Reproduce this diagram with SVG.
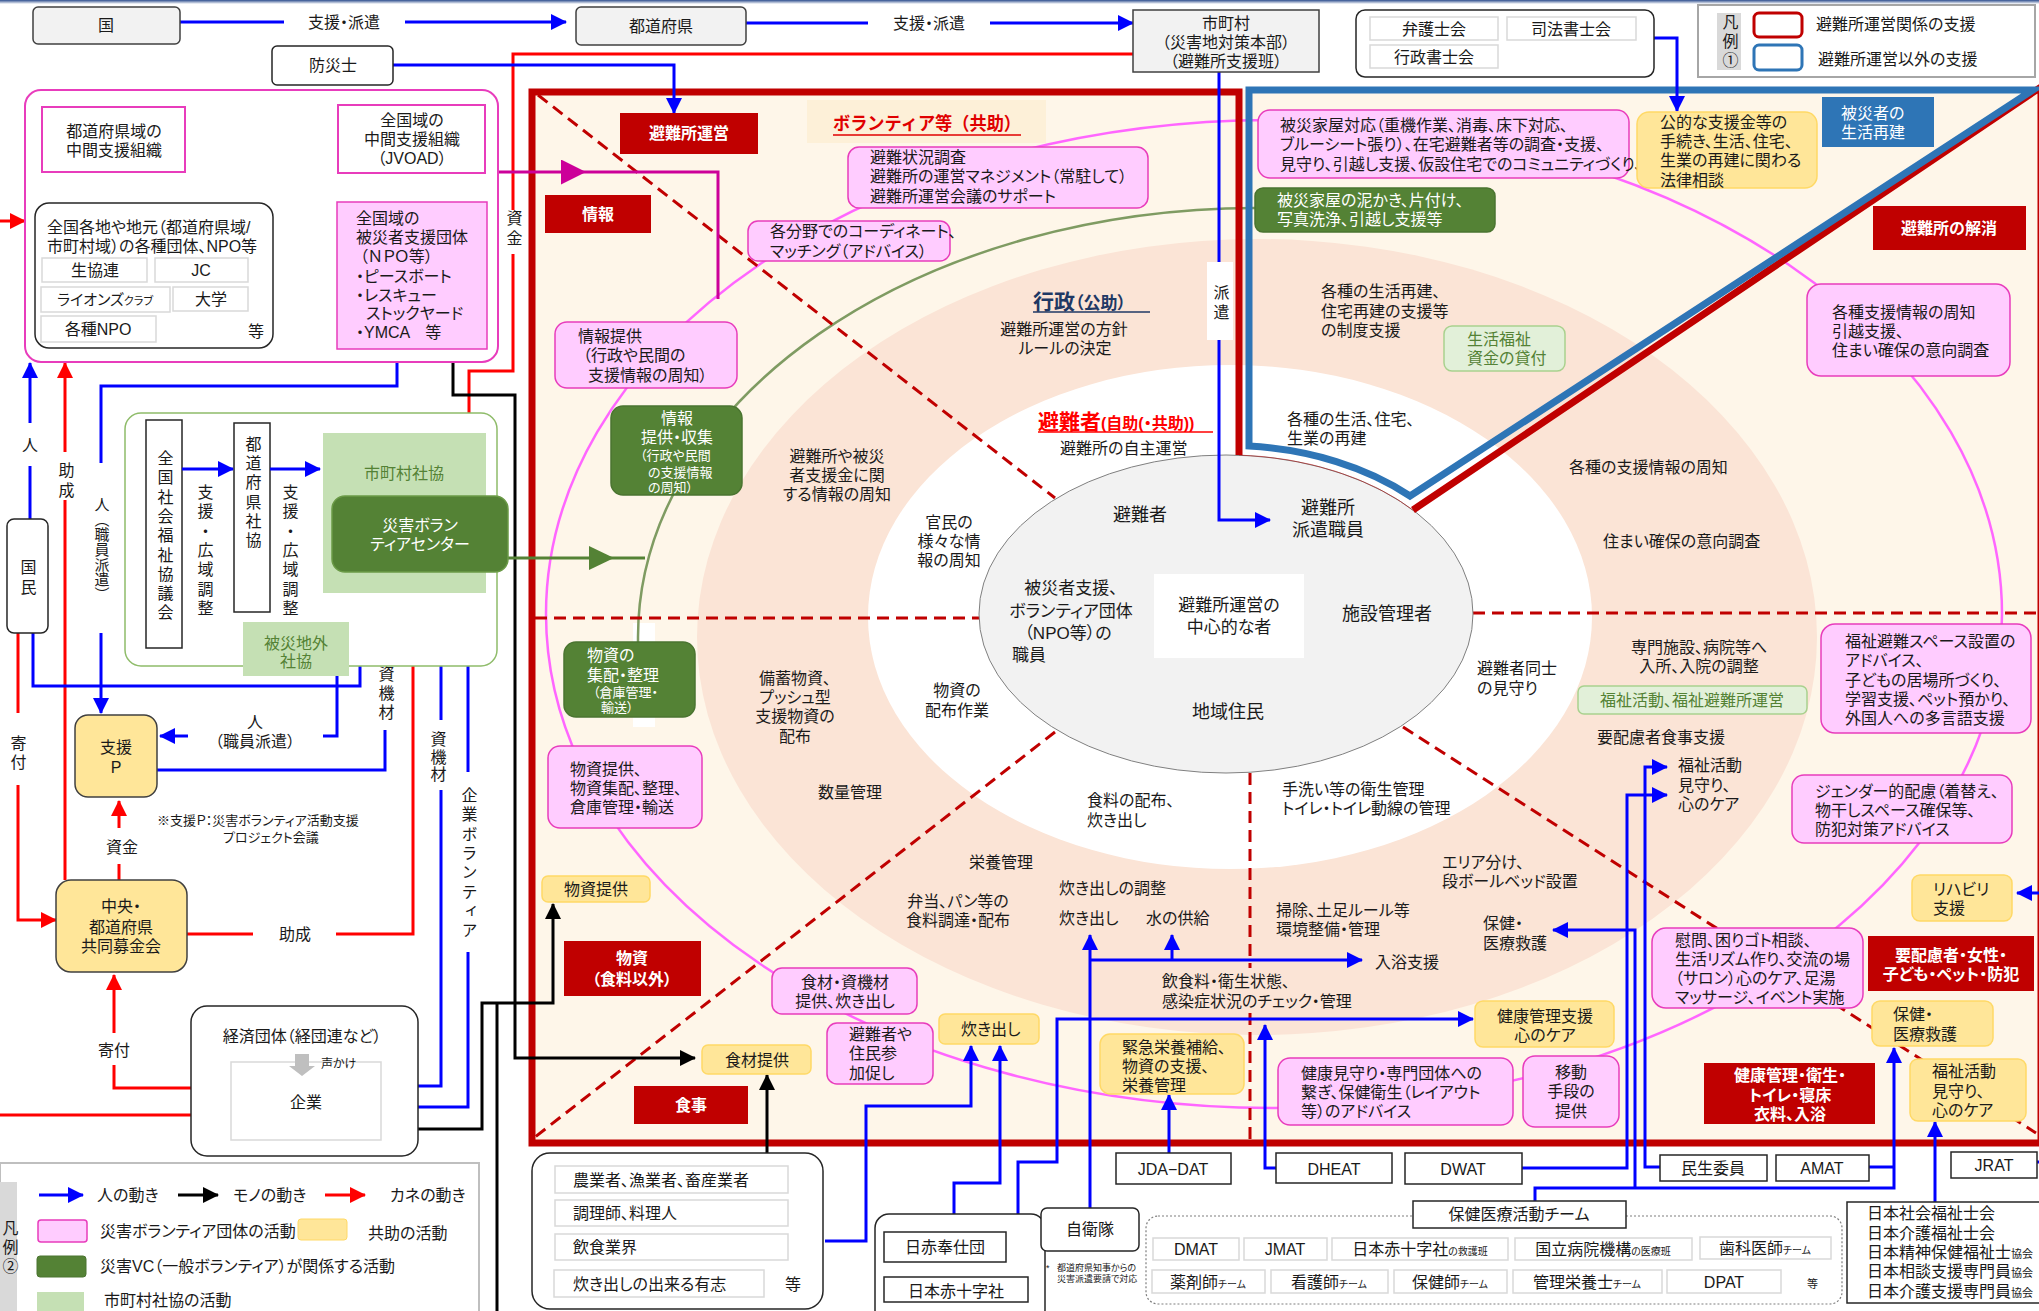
<svg xmlns="http://www.w3.org/2000/svg" width="2039" height="1311" viewBox="0 0 2039 1311">
<defs>
<style>
text{font-family:"Liberation Sans","Noto Sans CJK JP",sans-serif;font-size:15px;fill:#1a1a1a;font-feature-settings:"palt" 1}
.c{text-anchor:middle}
.w{fill:#fff}
.b{font-weight:bold}
.f16{font-size:16px}
.f17{font-size:17px}
.f18{font-size:18px}
.f13{font-size:13px}
.f12{font-size:12px}
.f11{font-size:11px}
.f10{font-size:10px}
.f9{font-size:9px}
.v{writing-mode:vertical-rl;font-feature-settings:normal}
.gt{fill:#548235}
.gray{fill:#f2f2f2;stroke:#404040;stroke-width:1.5}
.wb{fill:#fff;stroke:#262626;stroke-width:1.5}
.lb{fill:#fff;stroke:#d9d9d9;stroke-width:1.5}
.pk{fill:#ffccff;stroke:#e83cbc;stroke-width:1.5}
.yl{fill:#ffe699;stroke:#ffd966;stroke-width:1.5}
.dg{fill:#548235;stroke:#4a7430;stroke-width:1.5}
.lg{fill:#c5e0b4}
.lg2{fill:#e2f0d9;stroke:#a9d18e;stroke-width:1.5}
.rl{fill:#c00000}
.bl{fill:none;stroke:#0000ff;stroke-width:3}
.bk{fill:none;stroke:#000;stroke-width:3}
.rd{fill:none;stroke:#ff0000;stroke-width:3}
.mg{fill:none;stroke:#cc0099;stroke-width:3}
.gn{fill:none;stroke:#548235;stroke-width:3}
.dash{fill:none;stroke:#c00000;stroke-width:3;stroke-dasharray:12 7}
</style>
<linearGradient id="topg" x1="0" y1="0" x2="0" y2="1"><stop offset="0" stop-color="#2f4f8f"/><stop offset="1" stop-color="#ffffff"/></linearGradient>
<marker id="mb" viewBox="0 0 16 16" markerUnits="userSpaceOnUse" markerWidth="16" markerHeight="16" refX="15" refY="8" orient="auto"><path d="M0 0L16 8L0 16z" fill="#0000ff"/></marker>
<marker id="mk" viewBox="0 0 16 16" markerUnits="userSpaceOnUse" markerWidth="16" markerHeight="16" refX="15" refY="8" orient="auto"><path d="M0 0L16 8L0 16z" fill="#000"/></marker>
<marker id="mr" viewBox="0 0 16 16" markerUnits="userSpaceOnUse" markerWidth="16" markerHeight="16" refX="15" refY="8" orient="auto"><path d="M0 0L16 8L0 16z" fill="#ff0000"/></marker>
<marker id="mm" viewBox="0 0 16 16" markerUnits="userSpaceOnUse" markerWidth="16" markerHeight="16" refX="15" refY="8" orient="auto-start-reverse"><path d="M0 0L16 8L0 16z" fill="#cc0099"/></marker>
<marker id="mm2" viewBox="0 0 25 25" markerUnits="userSpaceOnUse" markerWidth="25" markerHeight="25" refX="24" refY="12.5" orient="auto"><path d="M0 0L25 12.5L0 25z" fill="#cc0099"/></marker>
<marker id="mg" viewBox="0 0 25 24" markerUnits="userSpaceOnUse" markerWidth="25" markerHeight="24" refX="24" refY="12" orient="auto"><path d="M0 0L25 12L0 24z" fill="#548235"/></marker>
</defs>

<rect width="2039" height="1311" fill="#fff"/>
<rect x="0" y="0" width="2039" height="4" fill="url(#topg)"/>

<g id="regions">
<rect x="532" y="90" width="1507" height="1053" fill="#fef6e9"/>
<rect x="807" y="100" width="239" height="43" fill="#fdf0d8"/>
<ellipse cx="1257" cy="637" rx="560" ry="398" fill="#fbe4d6"/>
<ellipse cx="1230" cy="617" rx="362" ry="252" fill="#fff"/>
<rect x="633" y="623" width="22" height="104" fill="#fff"/>
<ellipse cx="1274" cy="614" rx="728" ry="494" fill="none" stroke="#ff66ff" stroke-width="2.5"/>
<path d="M1255 208A619 429 0 0 0 638 637L638 643" fill="none" stroke="#7f9b62" stroke-width="2.5"/>
<path class="dash" d="M538 95L1055 498M535 618H980M1055 732L535 1137M1473 613H2036M1403 727L2036 1133M1250 773V968M1250 1013V1140"/>
<ellipse cx="1226" cy="614" rx="247" ry="159" fill="#f2f2f2" stroke="#808080" stroke-width="1"/>
<path d="M1239 455A247 159 0 0 1 1413 510" fill="none" stroke="#c00000" stroke-width="1" opacity="0.5"/>
<path d="M1239 455V92H532V1143H2041V87L1413 510" fill="none" stroke="#c00000" stroke-width="7"/>
<path d="M1249 90H2033L1410 496A257 169 0 0 0 1249 446Z" fill="none" stroke="#2e75b6" stroke-width="7"/>
</g>

<g id="connectors">
<path class="bl" d="M180 22H284"/>
<path class="bl" d="M405 22H566" marker-end="url(#mb)"/>
<path class="bl" d="M746 23H868"/>
<path class="bl" d="M990 23H1133" marker-end="url(#mb)"/>
<text class="c f16" x="344" y="28">支援・派遣</text>
<text class="c f16" x="929" y="29">支援・派遣</text>
<path class="rd" d="M1133 54H513V210"/>
<path class="rd" d="M513 254V371H469V493" marker-end="url(#mr)"/>
<text class="v f16" x="513" y="210" style="letter-spacing:4px">資金</text>
<path class="bl" d="M393 65H674V113" marker-end="url(#mb)"/>
<path class="bl" d="M1219 72V520H1270" marker-end="url(#mb)"/>
<rect x="1207" y="262" width="26" height="78" fill="#fff"/>
<text class="v f16" x="1220" y="284" style="letter-spacing:4px">派遣</text>
<path class="bl" d="M1654 38H1677V111" marker-end="url(#mb)"/>
<path class="mg" d="M185 130H338M256 130V142M256 166V183H306V274"/>
<text class="c f16" x="256" y="161">調整・支援</text>
<path class="mg" d="M277 274H334" marker-start="url(#mm)" marker-end="url(#mm)"/>
<path class="mg" d="M498 172H585" marker-end="url(#mm2)"/>
<path class="mg" d="M585 172H718V299"/>
<path class="rd" d="M0 221H25" marker-end="url(#mr)"/>
<path class="bl" d="M30 519V466"/>
<path class="bl" d="M30 423V363" marker-end="url(#mb)"/>
<text class="c f16" x="30" y="451">人</text>
<path class="rd" d="M65 880V500"/>
<path class="rd" d="M65 452V363" marker-end="url(#mr)"/>
<text class="v f16" x="65" y="462" style="letter-spacing:4px">助成</text>
<path class="bl" d="M397 349V386H101V463"/>
<path class="bl" d="M101 633V713" marker-end="url(#mb)"/>
<text class="v" x="101" y="497">人（職員派遣）</text>
<path class="rd" d="M18 633V713"/>
<path class="rd" d="M18 785V920H56" marker-end="url(#mr)"/>
<text class="v f16" x="17" y="735" style="letter-spacing:3px">寄付</text>
<path class="bl" d="M33 633V686H360V573" marker-end="url(#mb)"/>
<path class="bl" d="M337 622V573" marker-end="url(#mb)"/>
<path class="bl" d="M337 676V736H323"/>
<path class="bl" d="M188 736H160" marker-end="url(#mb)"/>
<text class="c f16" x="255" y="728">人</text>
<text class="c f16" x="255" y="747">（職員派遣）</text>
<path class="bl" d="M157 770H385V730"/>
<path class="bl" d="M385 625V573" marker-end="url(#mb)"/>
<text class="v f16" x="385" y="628" style="letter-spacing:3px">人・資機材</text>
<path class="bl" d="M381 1086H441V790"/>
<path class="bl" d="M441 720V573" marker-end="url(#mb)"/>
<text class="v f16" x="437" y="731" style="letter-spacing:1.5px">資機材</text>
<path class="bl" d="M381 1107H468V952"/>
<path class="bl" d="M468 772V573" marker-end="url(#mb)"/>
<text class="v f16" x="468" y="787" style="letter-spacing:3.3px">企業ボランティア</text>
<path class="rd" d="M187 934H253"/>
<path class="rd" d="M336 934H413V575" marker-end="url(#mr)"/>
<text class="c f16" x="295" y="940">助成</text>
<path class="rd" d="M119 880V864"/>
<path class="rd" d="M119 828V801" marker-end="url(#mr)"/>
<text class="c f16" x="122" y="853">資金</text>
<path class="rd" d="M233 1088H114V1065"/>
<path class="rd" d="M114 1033V975" marker-end="url(#mr)"/>
<text class="c f16" x="114" y="1056">寄付</text>
<path class="rd" d="M0 1115H230"/>
<path class="bk" d="M453 349V395H515V1058H695" marker-end="url(#mk)"/>
<path class="bk" d="M381 1129H482V1003H553V904" marker-end="url(#mk)"/>
<path class="bk" d="M497 1003V1311"/>
<path class="bk" d="M767 1153V1075" marker-end="url(#mk)"/>
<path class="gn" d="M508 558H613" marker-end="url(#mg)"/>
<path class="gn" d="M613 558H645"/>
<path class="bl" d="M825 1241H866V1106H971V1046" marker-end="url(#mb)"/>
<path class="bl" d="M954 1277V1183H1000V1046" marker-end="url(#mb)"/>
<path class="bl" d="M1090 1208V935" marker-end="url(#mb)"/>
<path class="bl" d="M1090 960H1362" marker-end="url(#mb)"/>
<path class="bl" d="M1172 960V935" marker-end="url(#mb)"/>
<path class="bl" d="M1018 1277V1162H1057V1019H1473" marker-end="url(#mb)"/>
<path class="bl" d="M1169 1153V1095" marker-end="url(#mb)"/>
<path class="bl" d="M1276 1168H1265V1025" marker-end="url(#mb)"/>
<path class="bl" d="M1522 1168H1627V795H1667" marker-end="url(#mb)"/>
<path class="bl" d="M1660 1167H1645V767H1667" marker-end="url(#mb)"/>
<path class="bl" d="M1535 1201V1188H1894V1048" marker-end="url(#mb)"/>
<path class="bl" d="M1635 1188V930H1553" marker-end="url(#mb)"/>
<path class="bl" d="M1869 1167H1894"/>
<path class="bl" d="M1935 1202V1122" marker-end="url(#mb)"/>
<path class="bl" d="M2037 1162H2042V893H2017" marker-end="url(#mb)"/>
</g>

<g id="n-kuni"><rect class="gray" x="33" y="7" width="147" height="37" rx="5"/><text class="c f16" x="106" y="31">国</text></g>
<g id="n-todofuken"><rect class="gray" x="576" y="7" width="170" height="38" rx="5"/><text class="c f16" x="661" y="32">都道府県</text></g>
<g id="n-shichoson"><rect class="gray" x="1133" y="10" width="186" height="62"/><text class="c f16"><tspan x="1226" y="29">市町村</tspan><tspan x="1226" y="48">（災害地対策本部）</tspan><tspan x="1226" y="67">（避難所支援班）</tspan></text></g>
<g id="n-bousaishi"><rect class="wb" x="272" y="46" width="121" height="39" rx="5"/><text class="c f16" x="333" y="71">防災士</text></g>
<g id="n-shigyo"><rect class="wb" x="1356" y="10" width="298" height="67" rx="9"/>
<rect class="lb" x="1370" y="17" width="128" height="23"/><rect class="lb" x="1507" y="17" width="129" height="23"/><rect class="lb" x="1370" y="45" width="128" height="23"/>
<text class="c f16" x="1434" y="35">弁護士会</text><text class="c f16" x="1571" y="35">司法書士会</text><text class="c f16" x="1434" y="63">行政書士会</text></g>
<g id="legend1">
<rect x="1698" y="5" width="337" height="72" fill="#fff" stroke="#a6a6a6" stroke-width="2"/>
<rect x="1717" y="13" width="24" height="57" fill="#d9d9d9"/>
<text class="v f16" x="1729" y="14" style="letter-spacing:3px">凡例①</text>
<rect x="1754" y="13" width="48" height="24" rx="5" fill="#fff" stroke="#c00000" stroke-width="3"/>
<rect x="1754" y="45" width="48" height="25" rx="5" fill="#fff" stroke="#2e75b6" stroke-width="3"/>
<text class="f16" x="1816" y="30">避難所運営関係の支援</text>
<text class="f16" x="1818" y="65">避難所運営以外の支援</text>
</g>

<g id="n-npo-area"><rect x="25" y="90" width="473" height="272" rx="16" fill="#fff" stroke="#e83cbc" stroke-width="2"/></g>
<g id="n-pref-chukan"><rect x="42" y="107" width="143" height="65" fill="#fff" stroke="#e83cbc" stroke-width="2"/><text class="c f16"><tspan x="114" y="137">都道府県域の</tspan><tspan x="114" y="156">中間支援組織</tspan></text></g>
<g id="n-jvoad"><rect x="338" y="105" width="147" height="68" fill="#fff" stroke="#e83cbc" stroke-width="2"/><text class="c f16"><tspan x="412" y="126">全国域の</tspan><tspan x="412" y="145">中間支援組織</tspan><tspan x="412" y="164">（JVOAD）</tspan></text></g>
<g id="n-kakushu"><rect class="wb" x="35" y="203" width="238" height="145" rx="14"/>
<text class="f16"><tspan x="47" y="233">全国各地や地元（都道府県域/</tspan><tspan x="47" y="252">市町村域）の各種団体、NPO等</tspan></text>
<rect class="lb" x="42" y="258" width="105" height="24"/><text class="c f16" x="95" y="276">生協連</text>
<rect class="lb" x="155" y="258" width="93" height="24"/><text class="c f16" x="201" y="276">JC</text>
<rect class="lb" x="41" y="287" width="129" height="25"/><text class="c" x="105" y="305">ライオンズ<tspan class="f11">クラブ</tspan></text>
<rect class="lb" x="173" y="287" width="75" height="24"/><text class="c f16" x="211" y="305">大学</text>
<rect class="lb" x="41" y="316" width="115" height="26"/><text class="c f16" x="98" y="335">各種NPO</text>
<text class="c f16" x="256" y="337">等</text></g>
<g id="n-npo-zenkoku"><rect class="pk" x="337" y="202" width="150" height="147"/>
<text class="f16"><tspan x="356" y="224">全国域の</tspan><tspan x="356" y="243">被災者支援団体</tspan><tspan x="360" y="262">（ＮＰＯ等）</tspan><tspan x="356" y="282">・ピースボート</tspan><tspan x="356" y="301">・レスキュー</tspan><tspan x="366" y="319">ストックヤード</tspan><tspan x="356" y="338">・YMCA　等</tspan></text></g>

<g id="n-shakyo-area"><rect x="125" y="413" width="372" height="253" rx="16" fill="#fff" stroke="#8fbc6a" stroke-width="1.5"/></g>
<g id="n-zenshakyo"><rect class="wb" x="146" y="420" width="36" height="228"/><text class="v f16" x="164" y="450" style="letter-spacing:3.3px">全国社会福祉協議会</text></g>
<text class="v f16" x="204" y="484" style="letter-spacing:3.3px">支援・広域調整</text>
<g id="n-kenshakyo"><rect class="wb" x="234" y="423" width="36" height="189"/><text class="v f16" x="252" y="436" style="letter-spacing:3.2px">都道府県社協</text></g>
<text class="v f16" x="289" y="484" style="letter-spacing:3.3px">支援・広域調整</text>
<path class="bl" d="M182 469H233" marker-end="url(#mb)"/>
<path class="bl" d="M270 469H320" marker-end="url(#mb)"/>
<g id="n-shichoson-shakyo"><rect class="lg" x="323" y="433" width="163" height="160"/><text class="c f16 gt" x="404" y="479">市町村社協</text></g>
<g id="n-vc"><rect x="332" y="496" width="176" height="76" rx="13" fill="#548235" stroke="#6b9a47" stroke-width="1.5"/><text class="c f16 w"><tspan x="420" y="531">災害ボラン</tspan><tspan x="420" y="550">ティアセンター</tspan></text></g>
<g id="n-higaichigai"><rect class="lg" x="243" y="622" width="106" height="54"/><text class="c f16 gt"><tspan x="296" y="649">被災地外</tspan><tspan x="296" y="667">社協</tspan></text></g>
<g id="n-kokumin"><rect class="wb" x="7" y="519" width="41" height="114" rx="7"/><text class="v f16" x="27" y="559" style="letter-spacing:4px">国民</text></g>
<g id="n-shienp"><rect x="75" y="715" width="82" height="82" rx="13" fill="#ffe699" stroke="#404040" stroke-width="1.5"/><text class="c f16"><tspan x="116" y="753">支援</tspan><tspan x="116" y="773">P</tspan></text></g>
<text class="f13" x="157" y="825">※支援Ｐ：災害ボランティア活動支援</text>
<text class="f13" x="223" y="842">プロジェクト会議</text>
<g id="n-kyobo"><rect x="56" y="880" width="131" height="92" rx="15" fill="#ffe699" stroke="#404040" stroke-width="1.5"/><text class="c f16"><tspan x="121" y="912">中央・</tspan><tspan x="121" y="933">都道府県</tspan><tspan x="121" y="952">共同募金会</tspan></text></g>
<g id="n-keizai"><rect class="wb" x="191" y="1006" width="227" height="150" rx="16"/><text class="c f16" x="302" y="1042">経済団体（経団連など）</text>
<rect class="lb" x="231" y="1062" width="150" height="78"/>
<path d="M295 1054H309V1066H315L302 1076L289 1066H295Z" fill="#bfbfbf"/>
<text class="f12" x="321" y="1068">声かけ</text>
<text class="c f16" x="306" y="1108">企業</text></g>

<g id="legend2">
<rect x="0" y="1163" width="479" height="160" fill="#fff" stroke="#bfbfbf" stroke-width="2"/>
<rect x="0" y="1182" width="17" height="140" fill="#d9d9d9"/>
<text class="v f16" x="9" y="1220" style="letter-spacing:3px">凡例②</text>
<path class="bl" d="M39 1195H83" marker-end="url(#mb)"/><text class="f16" x="97" y="1201">人の動き</text>
<path class="bk" d="M178 1195H218" marker-end="url(#mk)"/><text class="f16" x="233" y="1201">モノの動き</text>
<path class="rd" d="M325 1195H365" marker-end="url(#mr)"/><text class="f16" x="390" y="1201">カネの動き</text>
<rect x="38" y="1220" width="49" height="22" rx="3" fill="#ffccff" stroke="#e83cbc" stroke-width="1.5"/><text class="f16" x="100" y="1237">災害ボランティア団体の活動</text>
<rect x="298" y="1219" width="49" height="21" rx="3" fill="#ffe699" stroke="#ffd966"/><text class="f16" x="368" y="1239">共助の活動</text>
<rect x="37" y="1256" width="49" height="21" rx="3" fill="#548235" stroke="#4a7430"/><text class="f16" x="100" y="1272">災害VC（一般ボランティア）が関係する活動</text>
<rect x="37" y="1292" width="47" height="20" fill="#c5e0b4"/><text class="f16" x="104" y="1306">市町村社協の活動</text>
</g>

<g id="n-lbl-unei"><rect class="rl" x="620" y="113" width="138" height="41"/><text class="c f16 b w" x="689" y="139">避難所運営</text></g>
<g id="n-lbl-joho"><rect class="rl" x="545" y="195" width="106" height="38"/><text class="c f16 b w" x="598" y="220">情報</text></g>
<g id="n-volunteer-title"><text class="c b" style="font-size:18px;fill:#e00000;font-feature-settings:normal" x="927" y="130" textLength="188" lengthAdjust="spacingAndGlyphs">ボランティア等（共助）</text><line x1="833" y1="135" x2="1021" y2="135" stroke="#e00000" stroke-width="1.5"/></g>
<g id="n-hinan-chosa"><rect class="pk" x="848" y="147" width="300" height="61" rx="11"/><text class="f16"><tspan x="870" y="163">避難状況調査</tspan><tspan x="870" y="182">避難所の運営マネジメント（常駐して）</tspan><tspan x="870" y="202">避難所運営会議のサポート</tspan></text></g>
<g id="n-coordinate"><rect class="pk" x="748" y="221" width="202" height="40" rx="10"/><text class="f16"><tspan x="770" y="237">各分野でのコーディネート、</tspan><tspan x="770" y="257">マッチング（アドバイス）</tspan></text></g>
<g id="n-joho-teikyo"><rect class="pk" x="555" y="322" width="182" height="66" rx="12"/><text class="f16"><tspan x="578" y="342">情報提供</tspan><tspan x="583" y="361">（行政や民間の</tspan><tspan x="588" y="381">支援情報の周知）</tspan></text></g>
<g id="n-joho-shushu"><rect class="dg" x="611" y="406" width="131" height="89" rx="12"/><text class="c f16 w"><tspan x="677" y="424">情報</tspan><tspan x="677" y="443">提供・収集</tspan></text><text class="f13 w"><tspan x="640" y="460">（行政や民間</tspan><tspan x="648" y="477">の支援情報</tspan><tspan x="648" y="492">の周知）</tspan></text></g>
<g id="n-busshi-shuhai"><rect class="dg" x="564" y="642" width="131" height="75" rx="12"/><text class="f16 w"><tspan x="587" y="661">物資の</tspan><tspan x="587" y="681">集配・整理</tspan></text><text class="f13 w"><tspan x="593" y="697">（倉庫管理・</tspan><tspan x="601" y="712">輸送）</tspan></text></g>
<g id="n-busshi-teikyo-pk"><rect class="pk" x="548" y="746" width="154" height="82" rx="12"/><text class="f16"><tspan x="570" y="775">物資提供、</tspan><tspan x="570" y="794">物資集配、整理、</tspan><tspan x="570" y="813">倉庫管理・輸送</tspan></text></g>

<g id="texts-left">
<text class="c f16"><tspan x="837" y="462">避難所や被災</tspan><tspan x="837" y="481">者支援金に関</tspan><tspan x="837" y="500">する情報の周知</tspan></text>
<text class="c f16"><tspan x="949" y="528">官民の</tspan><tspan x="949" y="547">様々な情</tspan><tspan x="949" y="566">報の周知</tspan></text>
<text class="c f16"><tspan x="795" y="684">備蓄物資、</tspan><tspan x="795" y="703">プッシュ型</tspan><tspan x="795" y="722">支援物資の</tspan><tspan x="795" y="742">配布</tspan></text>
<text class="c f16"><tspan x="957" y="696">物資の</tspan><tspan x="957" y="716">配布作業</tspan></text>
<text class="c f16" x="850" y="798">数量管理</text>
<text class="f16" x="969" y="868">栄養管理</text>
<text class="c f16"><tspan x="958" y="907">弁当、パン等の</tspan><tspan x="958" y="926">食料調達・配布</tspan></text>
</g>

<g id="n-busshi-teikyo"><rect class="yl" x="542" y="876" width="108" height="26" rx="6"/><text class="c f16" x="596" y="895">物資提供</text></g>
<g id="n-lbl-busshi"><rect class="rl" x="564" y="941" width="137" height="55"/><text class="c f16 b w"><tspan x="632" y="964">物資</tspan><tspan x="632" y="985">（食料以外）</tspan></text></g>
<g id="n-shokuzai-pk"><rect class="pk" x="772" y="968" width="145" height="46" rx="10"/><text class="c f16"><tspan x="845" y="988">食材・資機材</tspan><tspan x="845" y="1007">提供、炊き出し</tspan></text></g>
<g id="n-sanka"><rect class="pk" x="827" y="1023" width="106" height="61" rx="10"/><text class="f16"><tspan x="849" y="1040">避難者や</tspan><tspan x="849" y="1059">住民参</tspan><tspan x="849" y="1079">加促し</tspan></text></g>
<g id="n-takidashi"><rect class="yl" x="939" y="1014" width="100" height="30" rx="6"/><text class="f16" x="961" y="1035">炊き出し</text></g>
<g id="n-shokuzai"><rect class="yl" x="702" y="1045" width="109" height="29" rx="6"/><text class="c f16" x="757" y="1066">食材提供</text></g>
<g id="n-lbl-shokuji"><rect class="rl" x="634" y="1086" width="114" height="38"/><text class="c f16 b w" x="691" y="1111">食事</text></g>
<g id="n-nogyo"><rect class="wb" x="532" y="1153" width="291" height="156" rx="18"/>
<rect class="lb" x="555" y="1166" width="233" height="27"/><text class="f16" x="573" y="1186">農業者、漁業者、畜産業者</text>
<rect class="lb" x="555" y="1200" width="233" height="26"/><text class="f16" x="573" y="1219">調理師、料理人</text>
<rect class="lb" x="555" y="1234" width="233" height="26"/><text class="f16" x="573" y="1253">飲食業界</text>
<rect class="lb" x="554" y="1270" width="210" height="27"/><text class="f16" x="573" y="1290">炊き出しの出来る有志</text>
<text class="f16" x="785" y="1290">等</text></g>
<g id="n-nisseki"><rect class="wb" x="875" y="1214" width="170" height="110" rx="14"/>
<rect class="wb" x="884" y="1232" width="122" height="30"/><text class="c f16" x="945" y="1253">日赤奉仕団</text>
<rect class="wb" x="884" y="1277" width="144" height="25"/><text class="c f16" x="956" y="1297">日本赤十字社</text></g>

<g id="texts-center">
<text class="b" style="font-size:21px;fill:#1f3864" x="1033" y="309">行政<tspan style="font-size:17px">（公助）</tspan></text>
<line x1="1033" y1="312" x2="1150" y2="312" stroke="#1f3864" stroke-width="1.5"/>
<text class="c f16"><tspan x="1064" y="335">避難所運営の方針</tspan><tspan x="1065" y="354">ルールの決定</tspan></text>
<text class="b" style="font-size:21px;fill:#ff0000" x="1038" y="429">避難者<tspan style="font-size:16px">(自助(・共助))</tspan></text>
<line x1="1038" y1="432" x2="1213" y2="432" stroke="#ff0000" stroke-width="1.5"/>
<text class="f16" x="1060" y="454">避難所の自主運営</text>
<text class="f16"><tspan x="1321" y="297">各種の生活再建、</tspan><tspan x="1321" y="317">住宅再建の支援等</tspan><tspan x="1321" y="336">の制度支援</tspan></text>
<text class="f16"><tspan x="1287" y="425">各種の生活、住宅、</tspan><tspan x="1287" y="444">生業の再建</tspan></text>
<text class="c f18" x="1140" y="521">避難者</text>
<text class="c f18"><tspan x="1328" y="514">避難所</tspan><tspan x="1328" y="536">派遣職員</tspan></text>
<text class="c f17"><tspan x="1071" y="594">被災者支援、</tspan><tspan x="1071" y="617">ボランティア団体</tspan><tspan x="1068" y="639">（NPO等）の</tspan><tspan x="1012" y="661" style="text-anchor:start">職員</tspan></text>
<rect x="1154" y="574" width="150" height="84" fill="#fff"/>
<text class="c f17"><tspan x="1229" y="611">避難所運営の</tspan><tspan x="1229" y="633">中心的な者</tspan></text>
<text class="c f18" x="1387" y="620">施設管理者</text>
<text class="c f18" x="1228" y="718">地域住民</text>
<text class="f16"><tspan x="1477" y="674">避難者同士</tspan><tspan x="1477" y="694">の見守り</tspan></text>
<text class="f16"><tspan x="1087" y="806">食料の配布、</tspan><tspan x="1087" y="826">炊き出し</tspan></text>
<text class="f16"><tspan x="1282" y="795">手洗い等の衛生管理</tspan><tspan x="1282" y="814">トイレ・トイレ動線の管理</tspan></text>
<text class="f16"><tspan x="1442" y="868">エリア分け、</tspan><tspan x="1442" y="887">段ボールベッド設置</tspan></text>
<text class="f16" x="1059" y="894">炊き出しの調整</text>
<text class="f16" x="1059" y="924">炊き出し</text>
<text class="f16" x="1146" y="924">水の供給</text>
<text class="f16"><tspan x="1276" y="916">掃除、土足ルール等</tspan><tspan x="1276" y="935">環境整備・管理</tspan></text>
<text class="f16" x="1375" y="968">入浴支援</text>
<text class="f16"><tspan x="1162" y="987">飲食料・衛生状態、</tspan><tspan x="1162" y="1007">感染症状況のチェック・管理</tspan></text>
<text class="f16"><tspan x="1483" y="929">保健・</tspan><tspan x="1483" y="949">医療救護</tspan></text>
<text class="f16" x="1569" y="473">各種の支援情報の周知</text>
<text class="f16" x="1603" y="547">住まい確保の意向調査</text>
<text class="c f16"><tspan x="1699" y="653">専門施設、病院等へ</tspan><tspan x="1699" y="672">入所、入院の調整</tspan></text>
<text class="f16" x="1597" y="743">要配慮者食事支援</text>
<text class="f16"><tspan x="1678" y="771">福祉活動</tspan><tspan x="1678" y="791">見守り、</tspan><tspan x="1678" y="810">心のケア</tspan></text>
</g>

<g id="n-higai-kaoku"><rect class="pk" x="1258" y="110" width="371" height="68" rx="12"/><text class="f16"><tspan x="1280" y="131">被災家屋対応（重機作業、消毒、床下対応、</tspan><tspan x="1280" y="150">ブルーシート張り）、在宅避難者等の調査・支援、</tspan><tspan x="1280" y="170">見守り、引越し支援、仮設住宅でのコミュニティづくり、</tspan></text></g>
<g id="n-dorokaki"><rect class="dg" x="1255" y="188" width="240" height="44" rx="8"/><text class="f16 w"><tspan x="1277" y="206">被災家屋の泥かき、片付け、</tspan><tspan x="1277" y="225">写真洗浄、引越し支援等</tspan></text></g>
<g id="n-fukushi-shikin"><rect class="lg2" x="1444" y="326" width="121" height="45" rx="8"/><text class="f16 gt"><tspan x="1467" y="345">生活福祉</tspan><tspan x="1467" y="364">資金の貸付</tspan></text></g>
<g id="n-kotekishien"><rect class="yl" x="1637" y="112" width="180" height="76" rx="12"/><text class="f16"><tspan x="1660" y="128">公的な支援金等の</tspan><tspan x="1660" y="147">手続き、生活、住宅、</tspan><tspan x="1660" y="166">生業の再建に関わる</tspan><tspan x="1660" y="186">法律相談</tspan></text></g>
<g id="n-seikatsu-saiken"><rect x="1822" y="97" width="112" height="50" fill="#2e75b6"/><text class="f16 w"><tspan x="1841" y="119">被災者の</tspan><tspan x="1841" y="138">生活再建</tspan></text></g>
<g id="n-lbl-kaisho"><rect class="rl" x="1873" y="206" width="153" height="44"/><text class="c f16 b w" x="1949" y="234">避難所の解消</text></g>
<g id="n-kakushu-shien"><rect class="pk" x="1807" y="284" width="203" height="92" rx="14"/><text class="f16"><tspan x="1832" y="318">各種支援情報の周知</tspan><tspan x="1832" y="337">引越支援、</tspan><tspan x="1832" y="356">住まい確保の意向調査</tspan></text></g>
<g id="n-fukushi-unei"><rect class="lg2" x="1578" y="686" width="229" height="28" rx="6"/><text class="c f16 gt" x="1692" y="706">福祉活動、福祉避難所運営</text></g>
<g id="n-fukushi-space"><rect class="pk" x="1821" y="624" width="210" height="109" rx="14"/><text class="f16"><tspan x="1845" y="647">福祉避難スペース設置の</tspan><tspan x="1845" y="666">アドバイス、</tspan><tspan x="1845" y="686">子どもの居場所づくり、</tspan><tspan x="1845" y="705">学習支援、ペット預かり、</tspan><tspan x="1845" y="724">外国人への多言語支援</tspan></text></g>
<g id="n-gender"><rect class="pk" x="1792" y="775" width="220" height="68" rx="12"/><text class="f16"><tspan x="1815" y="797">ジェンダー的配慮（着替え、</tspan><tspan x="1815" y="816">物干しスペース確保等、</tspan><tspan x="1815" y="835">防犯対策アドバイス</tspan></text></g>
<g id="n-rehab"><rect class="yl" x="1912" y="875" width="100" height="46" rx="8"/><text class="f16"><tspan x="1933" y="895">リハビリ</tspan><tspan x="1933" y="914">支援</tspan></text></g>
<g id="n-imon"><rect class="pk" x="1652" y="928" width="211" height="80" rx="14"/><text class="f16"><tspan x="1675" y="946">慰問、困りゴト相談、</tspan><tspan x="1675" y="965">生活リズム作り、交流の場</tspan><tspan x="1675" y="984">（サロン）心のケア、足湯</tspan><tspan x="1675" y="1003">マッサージ、イベント実施</tspan></text></g>
<g id="n-lbl-yohairyo"><rect class="rl" x="1868" y="936" width="166" height="55"/><text class="c f16 b w"><tspan x="1951" y="961">要配慮者・女性・</tspan><tspan x="1951" y="980">子ども・ペット・防犯</tspan></text></g>
<g id="n-kenko-shien"><rect class="yl" x="1475" y="1001" width="139" height="46" rx="8"/><text class="c f16"><tspan x="1545" y="1022">健康管理支援</tspan><tspan x="1545" y="1041">心のケア</tspan></text></g>
<g id="n-hoken-iryo"><rect class="yl" x="1872" y="1001" width="121" height="45" rx="8"/><text class="f16"><tspan x="1893" y="1020">保健・</tspan><tspan x="1893" y="1040">医療救護</tspan></text></g>
<g id="n-lbl-kenko"><rect class="rl" x="1704" y="1063" width="171" height="61"/><text class="c f16 b w"><tspan x="1790" y="1081">健康管理・衛生・</tspan><tspan x="1790" y="1101">トイレ・寝床</tspan><tspan x="1790" y="1120">衣料、入浴</tspan></text></g>
<g id="n-fukushi-mimamori"><rect class="yl" x="1910" y="1059" width="116" height="62" rx="8"/><text class="f16"><tspan x="1932" y="1077">福祉活動</tspan><tspan x="1932" y="1097">見守り、</tspan><tspan x="1932" y="1116">心のケア</tspan></text></g>
<g id="n-ido"><rect class="pk" x="1523" y="1056" width="96" height="71" rx="12"/><text class="c f16"><tspan x="1571" y="1078">移動</tspan><tspan x="1571" y="1097">手段の</tspan><tspan x="1571" y="1117">提供</tspan></text></g>
<g id="n-kinkyu-eiyo"><rect class="yl" x="1100" y="1034" width="144" height="60" rx="10"/><text class="f16"><tspan x="1122" y="1053">緊急栄養補給、</tspan><tspan x="1122" y="1072">物資の支援、</tspan><tspan x="1122" y="1091">栄養管理</tspan></text></g>
<g id="n-kenko-mimamori"><rect class="pk" x="1278" y="1058" width="235" height="67" rx="12"/><text class="f16"><tspan x="1301" y="1079">健康見守り・専門団体への</tspan><tspan x="1301" y="1098">繋ぎ、保健衛生（レイアウト</tspan><tspan x="1301" y="1117">等）のアドバイス</tspan></text></g>

<g id="n-jda"><rect class="wb" x="1116" y="1153" width="115" height="31"/><text class="c f16" x="1173" y="1175">JDA−DAT</text></g>
<g id="n-dheat"><rect class="wb" x="1276" y="1153" width="116" height="30"/><text class="c f16" x="1334" y="1175">DHEAT</text></g>
<g id="n-dwat"><rect class="wb" x="1405" y="1153" width="117" height="31"/><text class="c f16" x="1463" y="1175">DWAT</text></g>
<g id="n-minsei"><rect class="wb" x="1660" y="1155" width="107" height="26"/><text class="c f16" x="1713" y="1174">民生委員</text></g>
<g id="n-amat"><rect class="wb" x="1776" y="1155" width="93" height="26"/><text class="c f16" x="1822" y="1174">AMAT</text></g>
<g id="n-jrat"><rect class="wb" x="1951" y="1152" width="86" height="26"/><text class="c f16" x="1994" y="1171">JRAT</text></g>
<g id="n-jieitai"><rect class="wb" x="1041" y="1208" width="98" height="43" rx="6"/><text class="c f16" x="1090" y="1235">自衛隊</text>
<text class="f9" x="1046" y="1271">*</text><text class="f9"><tspan x="1057" y="1271">都道府県知事からの</tspan><tspan x="1057" y="1282">災害派遣要請で対応</tspan></text></g>
<g id="n-hokeniryo-team"><rect x="1146" y="1216" width="696" height="88" rx="12" fill="#fff" stroke="#7f7f7f" stroke-width="1.2" stroke-dasharray="2 2"/>
<rect class="wb" x="1413" y="1201" width="213" height="27"/><text class="c f16" x="1519" y="1220">保健医療活動チーム</text>
<rect class="lb" x="1153" y="1238" width="86" height="22"/><text class="c f16" x="1196" y="1255">DMAT</text>
<rect class="lb" x="1244" y="1238" width="83" height="22"/><text class="c f16" x="1285" y="1255">JMAT</text>
<rect class="lb" x="1332" y="1238" width="176" height="22"/><text class="c f16" x="1420" y="1255">日本赤十字社<tspan class="f10">の救護班</tspan></text>
<rect class="lb" x="1515" y="1238" width="177" height="22"/><text class="c f16" x="1603" y="1255">国立病院機構<tspan class="f10">の医療班</tspan></text>
<rect class="lb" x="1700" y="1237" width="131" height="22"/><text class="c f16" x="1765" y="1254">歯科医師<tspan class="f10">チーム</tspan></text>
<rect class="lb" x="1152" y="1270" width="113" height="23"/><text class="c f16" x="1208" y="1288">薬剤師<tspan class="f10">チーム</tspan></text>
<rect class="lb" x="1271" y="1270" width="117" height="23"/><text class="c f16" x="1329" y="1288">看護師<tspan class="f10">チーム</tspan></text>
<rect class="lb" x="1394" y="1270" width="113" height="23"/><text class="c f16" x="1450" y="1288">保健師<tspan class="f10">チーム</tspan></text>
<rect class="lb" x="1513" y="1270" width="149" height="23"/><text class="c f16" x="1587" y="1288">管理栄養士<tspan class="f10">チーム</tspan></text>
<rect class="lb" x="1667" y="1270" width="114" height="23"/><text class="c f16" x="1724" y="1288">DPAT</text>
<text class="f11" x="1807" y="1288">等</text></g>
<g id="n-fukushishi"><rect x="1847" y="1202" width="195" height="101" fill="#fff" stroke="#262626" stroke-width="1.5"/>
<text class="f16"><tspan x="1867" y="1219">日本社会福祉士会</tspan><tspan x="1867" y="1239">日本介護福祉士会</tspan><tspan x="1867" y="1258">日本精神保健福祉士<tspan class="f11">協会</tspan></tspan><tspan x="1867" y="1277">日本相談支援専門員<tspan class="f11">協会</tspan></tspan><tspan x="1867" y="1297">日本介護支援専門員<tspan class="f11">協会</tspan></tspan></text></g>
</svg>
